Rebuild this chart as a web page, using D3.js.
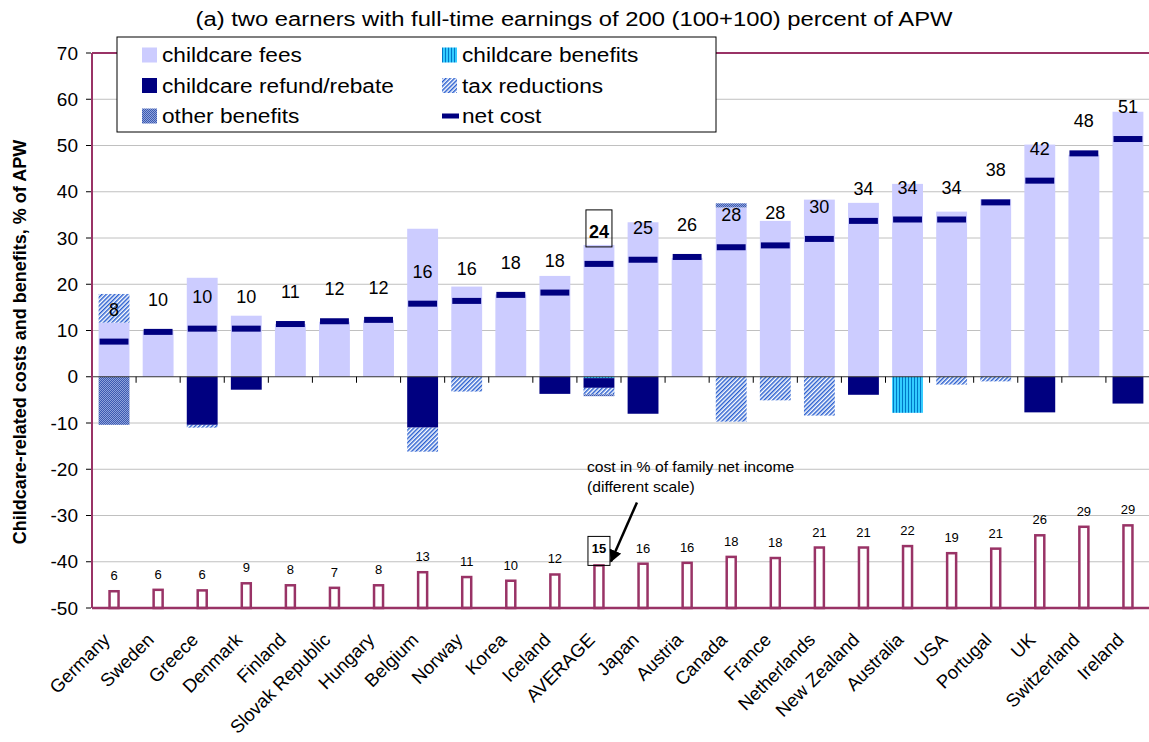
<!DOCTYPE html>
<html>
<head>
<meta charset="utf-8">
<script src="https://cdn.jsdelivr.net/npm/d3@7"></script>
<style>
  body { margin: 0; background: #fff; }
  text { font-family: "Liberation Sans", Arial, sans-serif; }
</style>
</head>
<body>
<div id="chart"></div>
<script>
// categories and series (% of APW)
var countries = ["Germany","Sweden","Greece","Denmark","Finland","Slovak Republic","Hungary","Belgium","Norway","Korea","Iceland","AVERAGE","Japan","Austria","Canada","France","Netherlands","New Zealand","Australia","USA","Portugal","UK","Switzerland","Ireland"];
var fees      = [11.7, 9.9, 21.4, 13.2, 11.4, 11.9, 12.2, 32.0, 19.5, 17.8, 21.8, 28.5, 33.4, 25.7, 36.6, 33.7, 38.3, 37.6, 41.7, 35.7, 38.4, 50.2, 48.0, 57.3];
var benefits  = [0, 0, 0, 0, 0, 0, 0, 0, 0, 0, 0, -0.3, 0, 0, 0, 0, 0, 0, -7.8, 0, 0, 0, 0, 0];
var refund    = [0, 0, -10.4, -2.8, 0, 0, 0, -11.0, 0, 0, -3.7, -2.1, -8.0, 0, 0, 0, 0, -3.9, 0, 0, 0, -7.7, 0, -5.8];
var taxRed    = [6.2, 0, -0.6, 0, 0, 0, 0, -5.2, -3.2, 0, 0, -1.4, 0, 0, -9.7, -5.1, -8.4, 0, 0, -1.7, -1.0, 0, 0, 0];
var otherBen  = [-10.4, 0, 0, 0, 0, 0, 0, 0, 0, 0, 0, -0.4, 0, 0, 0.9, 0, 0, 0, 0, 0, 0, 0, 0, 0];
var netCost   = [7.6, 9.7, 10.4, 10.4, 11.4, 12.0, 12.3, 15.8, 16.4, 17.7, 18.2, 24.4, 25.3, 25.9, 28.0, 28.4, 29.8, 33.7, 34.0, 34.0, 37.7, 42.4, 48.3, 51.4];
// cost in % of family net income (secondary scale)
var netIncomeShare = [5.9, 6.4, 6.2, 8.7, 8.0, 7.1, 8.0, 12.6, 10.9, 9.6, 11.8, 15.0, 15.6, 15.9, 18.0, 17.6, 21.3, 21.3, 21.8, 19.3, 20.9, 25.6, 28.6, 29.1];
var yTicks = [70, 60, 50, 40, 30, 20, 10, 0, -10, -20, -30, -40, -50];

var W = 1149, H = 742;
var margin = {top: 53, right: -1, bottom: 134, left: 92};
var width = W - margin.left - margin.right,
    height = H - margin.top - margin.bottom;

var maroon = "#993366", navy = "#000080";

var svg = d3.select("#chart").append("svg")
    .attr("width", W).attr("height", H)
    .style("background", "#fff");

// patterns
var defs = svg.append("defs");
var pTax = defs.append("pattern").attr("id", "pTax")
    .attr("width", 3).attr("height", 3)
    .attr("patternUnits", "userSpaceOnUse")
    .attr("patternTransform", "rotate(45)");
pTax.append("rect").attr("width", 3).attr("height", 3).attr("fill", "#ffffff");
pTax.append("rect").attr("width", 1.5).attr("height", 3).attr("fill", "#2a5fd0");

var pOther = defs.append("pattern").attr("id", "pOther")
    .attr("width", 2).attr("height", 2)
    .attr("patternUnits", "userSpaceOnUse");
pOther.append("rect").attr("width", 2).attr("height", 2).attr("fill", "#8fa3dc");
pOther.append("rect").attr("width", 1).attr("height", 1).attr("fill", "#3c5ab0");
pOther.append("rect").attr("x", 1).attr("y", 1).attr("width", 1).attr("height", 1).attr("fill", "#3c5ab0");

var pBen = defs.append("pattern").attr("id", "pBen")
    .attr("width", 3).attr("height", 3)
    .attr("patternUnits", "userSpaceOnUse");
pBen.append("rect").attr("width", 3).attr("height", 3).attr("fill", "#33ccff");
pBen.append("rect").attr("width", 1).attr("height", 3).attr("fill", "#0077c8");

defs.append("marker").attr("id", "arrow")
    .attr("viewBox", "0 0 10 10").attr("refX", 9).attr("refY", 5)
    .attr("markerWidth", 5).attr("markerHeight", 5)
    .attr("orient", "auto")
  .append("path").attr("d", "M0,0 L10,5 L0,10 z").attr("fill", "#000");

var g = svg.append("g").attr("transform", "translate(" + margin.left + "," + margin.top + ")");

var x = d3.scaleBand().domain(countries).range([0, width])
    .paddingInner(0.3).paddingOuter(0.15);
var y = d3.scaleLinear().domain([-50, 70]).range([height, 0]);
var y2 = d3.scaleLinear().domain([0, 100]).range([y(-50), y(11.4)]);

// gridlines
g.append("g").selectAll("line")
  .data(yTicks.filter(function(d) { return d !== 70 && d !== -50 && d !== 0; }))
  .enter().append("line")
    .attr("x1", 0).attr("x2", width)
    .attr("y1", function(d) { return y(d); })
    .attr("y2", function(d) { return y(d); })
    .attr("stroke", "#c0c0c0").attr("stroke-width", 1);

// stacked bars
var rows = countries.map(function(c, i) {
  return {country: c, fees: fees[i], benefits: benefits[i], refund: refund[i],
          tax: taxRed[i], other: otherBen[i]};
});
var keys = ["fees", "benefits", "refund", "tax", "other"];
var fills = {fees: "#ccccff", benefits: "url(#pBen)", refund: navy, tax: "url(#pTax)", other: "url(#pOther)"};
var series = d3.stack().keys(keys).offset(d3.stackOffsetDiverging)(rows);

g.append("g").selectAll("g")
  .data(series)
  .enter().append("g")
    .attr("fill", function(d) { return fills[d.key]; })
  .selectAll("rect")
  .data(function(d) { return d.filter(function(p) { return p[1] !== p[0]; }); })
  .enter().append("rect")
    .attr("x", function(d) { return x(d.data.country); })
    .attr("width", x.bandwidth())
    .attr("y", function(d) { return y(Math.max(d[0], d[1])); })
    .attr("height", function(d) { return Math.abs(y(d[0]) - y(d[1])); });

// net cost markers
g.append("g").selectAll("rect")
  .data(countries)
  .enter().append("rect")
    .attr("x", function(d) { return x(d) + 1; })
    .attr("width", x.bandwidth() - 2)
    .attr("y", function(d, i) { return y(netCost[i]) - 3; })
    .attr("height", 6)
    .attr("fill", navy);

// net cost labels
g.append("g").selectAll("text")
  .data(countries)
  .enter().append("text")
    .attr("x", function(d) { return x(d) + x.bandwidth() / 2; })
    .attr("y", function(d, i) { return y(netCost[i]) - 26; })
    .attr("text-anchor", "middle")
    .attr("font-size", 18)
    .attr("font-weight", function(d) { return d === "AVERAGE" ? "bold" : "normal"; })
    .attr("fill", "#000")
    .text(function(d, i) { return d3.format(".0f")(netCost[i]); });

var iAvg = countries.indexOf("AVERAGE");
var cAvg = x("AVERAGE") + x.bandwidth() / 2;
g.append("rect")
    .attr("x", cAvg - 13).attr("y", y(netCost[iAvg]) - 54)
    .attr("width", 26).attr("height", 37)
    .attr("fill", "none").attr("stroke", "#000").attr("stroke-width", 1);

// zero axis with ticks between categories
g.append("line")
    .attr("x1", 0).attr("x2", width)
    .attr("y1", y(0)).attr("y2", y(0))
    .attr("stroke", "#333").attr("stroke-width", 1.2);
g.append("g").selectAll("line")
  .data(countries.slice(1))
  .enter().append("line")
    .attr("x1", function(d) { return x(d) - x.step() * x.paddingInner() / 2; })
    .attr("x2", function(d) { return x(d) - x.step() * x.paddingInner() / 2; })
    .attr("y1", y(0)).attr("y2", y(0) + 6)
    .attr("stroke", "#000").attr("stroke-width", 1);

// cost in % of family net income (hollow bars)
g.append("g").selectAll("rect")
  .data(countries)
  .enter().append("rect")
    .attr("x", function(d) { return x(d) + x.bandwidth() / 2 - 4.5; })
    .attr("width", 9)
    .attr("y", function(d, i) { return y2(netIncomeShare[i]); })
    .attr("height", function(d, i) { return y2(0) - y2(netIncomeShare[i]); })
    .attr("fill", "#fff").attr("stroke", maroon).attr("stroke-width", 2.5);

g.append("g").selectAll("text")
  .data(countries)
  .enter().append("text")
    .attr("x", function(d) { return x(d) + x.bandwidth() / 2; })
    .attr("y", function(d, i) { return y2(netIncomeShare[i]) - (d === "AVERAGE" ? 12 : 11); })
    .attr("text-anchor", "middle")
    .attr("font-size", 13)
    .attr("font-weight", function(d) { return d === "AVERAGE" ? "bold" : "normal"; })
    .attr("fill", "#000")
    .text(function(d, i) { return d3.format(".0f")(netIncomeShare[i]); });

g.append("rect")
    .attr("x", cAvg - 11).attr("y", y2(netIncomeShare[iAvg]) - 29)
    .attr("width", 22).attr("height", 29)
    .attr("fill", "none").attr("stroke", "#000").attr("stroke-width", 1);

// annotation
g.append("line")
    .attr("x1", cAvg + 38).attr("y1", y2(netIncomeShare[iAvg]) - 63)
    .attr("x2", cAvg + 12).attr("y2", y2(netIncomeShare[iAvg]) - 4)
    .attr("stroke", "#000").attr("stroke-width", 2.5)
    .attr("marker-end", "url(#arrow)");
var ann = g.append("text")
    .attr("transform", "translate(" + (cAvg - 12) + "," + (y2(netIncomeShare[iAvg]) - 93) + ") scale(1.12,1)")
    .attr("font-size", 14).attr("fill", "#000");
ann.append("tspan").attr("x", 0).text("cost in % of family net income");
ann.append("tspan").attr("x", 0).attr("dy", 20).text("(different scale)");

// frame: left axis, top and bottom lines
g.append("line").attr("x1", 0).attr("x2", width).attr("y1", y(70)).attr("y2", y(70))
    .attr("stroke", maroon).attr("stroke-width", 2);
g.append("line").attr("x1", 0).attr("x2", width).attr("y1", y(-50)).attr("y2", y(-50))
    .attr("stroke", maroon).attr("stroke-width", 2.5);
g.append("line").attr("x1", 0).attr("x2", 0).attr("y1", y(70)).attr("y2", y(-50))
    .attr("stroke", maroon).attr("stroke-width", 2);

// y axis ticks and labels
var yAxis = g.append("g");
yAxis.selectAll("line").data(yTicks).enter().append("line")
    .attr("x1", -6).attr("x2", -1)
    .attr("y1", function(d) { return y(d); }).attr("y2", function(d) { return y(d); })
    .attr("stroke", "#000");
yAxis.selectAll("text").data(yTicks).enter().append("text")
    .attr("x", -14).attr("y", function(d) { return y(d); })
    .attr("dy", "0.35em").attr("text-anchor", "end")
    .attr("font-size", 19).attr("fill", "#000")
    .text(function(d) { return d; });

svg.append("text")
    .attr("transform", "translate(26," + (margin.top + y(7.5)) + ") rotate(-90)")
    .attr("text-anchor", "middle")
    .attr("font-size", 18).attr("font-weight", "bold").attr("fill", "#000")
    .text("Childcare-related costs and benefits, % of APW");

// x labels
g.append("g").selectAll("text")
  .data(countries)
  .enter().append("text")
    .attr("transform", function(d) {
      return "translate(" + (x(d) + x.bandwidth() / 2 - 3) + "," + (height + 33) + ") rotate(-45)";
    })
    .attr("text-anchor", "end")
    .attr("font-size", 18.5).attr("fill", "#000")
    .text(function(d) { return d; });

// title
svg.append("text")
    .attr("transform", "translate(574,26) scale(1.19,1)")
    .attr("text-anchor", "middle")
    .attr("font-size", 20).attr("fill", "#000")
    .text("(a) two earners with full-time earnings of 200 (100+100) percent of APW");

// legend
var legendItems = [
  {label: "childcare fees", fill: fills.fees},
  {label: "childcare benefits", fill: fills.benefits},
  {label: "childcare refund/rebate", fill: fills.refund},
  {label: "tax reductions", fill: fills.tax},
  {label: "other benefits", fill: fills.other},
  {label: "net cost", line: true}
];
var legend = svg.append("g").attr("transform", "translate(117,37)");
legend.append("rect").attr("width", 599).attr("height", 95)
    .attr("fill", "#fff").attr("stroke", "#000").attr("stroke-width", 1);
var li = legend.selectAll("g").data(legendItems).enter().append("g")
    .attr("transform", function(d, i) {
      return "translate(" + (i % 2 === 0 ? 25 : 325) + "," + (18 + Math.floor(i / 2) * 30.5) + ")";
    });
li.each(function(d) {
  var s = d3.select(this);
  if (d.line) {
    s.append("rect").attr("x", 0).attr("y", -2.5).attr("width", 17).attr("height", 5).attr("fill", navy);
  } else {
    s.append("rect").attr("x", 0).attr("y", -7.5).attr("width", 15).attr("height", 15).attr("fill", d.fill);
  }
});
li.append("text")
    .attr("transform", "translate(20,0) scale(1.08,1)")
    .attr("dy", "0.35em")
    .attr("font-size", 21).attr("fill", "#000")
    .text(function(d) { return d.label; });
</script>
</body>
</html>
